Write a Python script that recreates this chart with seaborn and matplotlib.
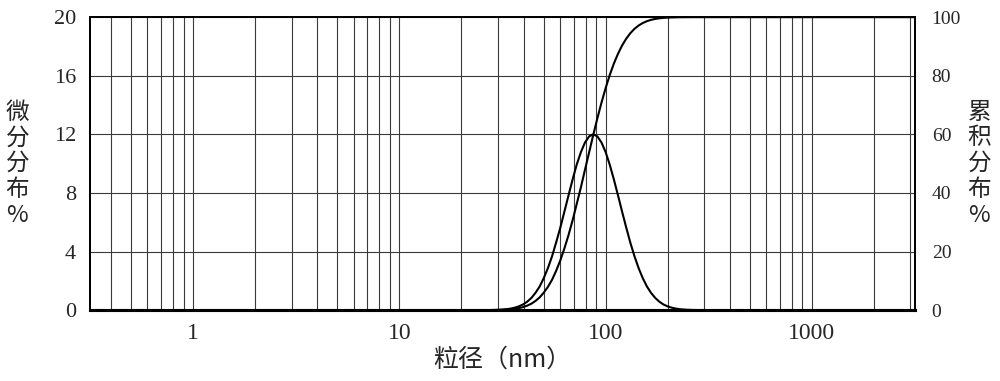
import numpy as np
import pandas as pd
import seaborn as sns
import matplotlib
matplotlib.use("Agg")
import matplotlib.pyplot as plt
from matplotlib.ticker import NullFormatter, FixedLocator

# particle size (nm) and readings taken off the reference curves
size_nm = [0.316, 27.5, 28.8, 30.2, 31.6, 33.1, 34.7, 36.3, 38.0, 39.8, 41.7,
           43.7, 45.7, 47.9, 50.1, 52.5, 55.0, 57.5, 60.3, 63.1, 66.1,
           69.2, 72.4, 75.9, 79.4, 83.2, 87.1, 91.2, 95.5, 100.0, 104.7,
           109.6, 114.8, 120.2, 125.9, 131.8, 138.0, 144.5, 151.4, 158.5, 166.0,
           173.8, 182.0, 190.5, 199.5, 208.9, 218.8, 229.1, 239.9, 251.2, 263.0,
           275.4, 3162.0]

# differential distribution, %
diff_pct = [0.0, 0.007, 0.013, 0.023, 0.039, 0.065, 0.106, 0.17, 0.26, 0.39, 0.58,
            0.84, 1.18, 1.62, 2.18, 2.87, 3.68, 4.60, 5.63, 6.72, 7.84,
            8.93, 9.93, 10.79, 11.44, 11.86, 12.00, 11.86, 11.44, 10.79, 9.93,
            8.93, 7.84, 6.72, 5.63, 4.60, 3.68, 2.87, 2.18, 1.62, 1.18,
            0.84, 0.58, 0.39, 0.26, 0.17, 0.106, 0.065, 0.039, 0.023, 0.013,
            0.007, 0.0]

# cumulative distribution, %
cum_pct = [0.0, 0.02, 0.04, 0.07, 0.11, 0.18, 0.29, 0.45, 0.69, 1.04, 1.54,
           2.22, 3.14, 4.36, 5.94, 7.93, 10.38, 13.35, 16.98, 21.04, 25.65,
           30.71, 36.20, 41.96, 47.89, 53.90, 59.79, 65.47, 70.85, 75.77, 80.23,
           84.13, 87.49, 90.34, 92.66, 94.54, 96.01, 97.14, 98.00, 98.62, 99.07,
           99.39, 99.60, 99.75, 99.84, 99.90, 99.94, 99.97, 99.98, 99.99, 100.0,
           100.0, 100.0]

x_ticks = [1, 10, 100, 1000]
x_tick_labels = ["1", "10", "100", "1000"]
left_ticks = [0, 4, 8, 12, 16, 20]
right_ticks = [0, 20, 40, 60, 80, 100]

df = pd.DataFrame({"size": size_nm, "diff": diff_pct, "cum": cum_pct})

sns.set_style("white")
plt.rcParams["font.family"] = ["Liberation Serif", "Noto Sans CJK SC"]
cjk = ["Noto Sans CJK SC", "DejaVu Sans"]

fig = plt.figure(figsize=(10, 3.81), dpi=100)
ax = fig.add_axes([0.09, 0.186, 0.825, 0.769])

sns.lineplot(data=df, x="size", y="diff", ax=ax, color="black", lw=1.5,
             sort=False)
ax.set_xscale("log")
ax.set_xlim(10 ** -0.5, 10 ** 3.5)
ax.set_ylim(0, 20)
ax.xaxis.set_major_locator(FixedLocator(x_ticks))
ax.set_xticklabels(x_tick_labels)
ax.xaxis.set_minor_formatter(NullFormatter())
ax.set_yticks(left_ticks)
ax.grid(True, which="both", axis="x", color="#3a3a3a", lw=0.8)
ax.grid(True, which="major", axis="y", color="#3a3a3a", lw=0.8)
ax.tick_params(axis="x", which="both", length=0, pad=9, labelsize=17)
ax.tick_params(axis="y", length=0, pad=10, labelsize=16)
ax.set_xlabel("粒径（nm）", family=cjk, fontsize=18, labelpad=2)
ax.set_ylabel("")
ax.text(-0.088, 0.5, "微\n分\n分\n布\n%", transform=ax.transAxes,
        family=cjk, fontsize=17, ha="center", va="center", linespacing=1.15)

ax2 = ax.twinx()
sns.lineplot(data=df, x="size", y="cum", ax=ax2, color="black", lw=1.5,
             sort=False)
ax2.set_ylim(0, 100)
ax2.set_yticks(right_ticks)
ax2.set_ylabel("")
ax2.tick_params(axis="y", length=0, pad=12, labelsize=14)
ax2.text(1.078, 0.5, "累\n积\n分\n布\n%", transform=ax.transAxes,
         family=cjk, fontsize=17, ha="center", va="center", linespacing=1.15)

for a in (ax, ax2):
    for s in a.spines.values():
        s.set_color("black")
        s.set_linewidth(1.3)
    a.spines["bottom"].set_linewidth(2.2)

fig.savefig("out.png", dpi=100)
